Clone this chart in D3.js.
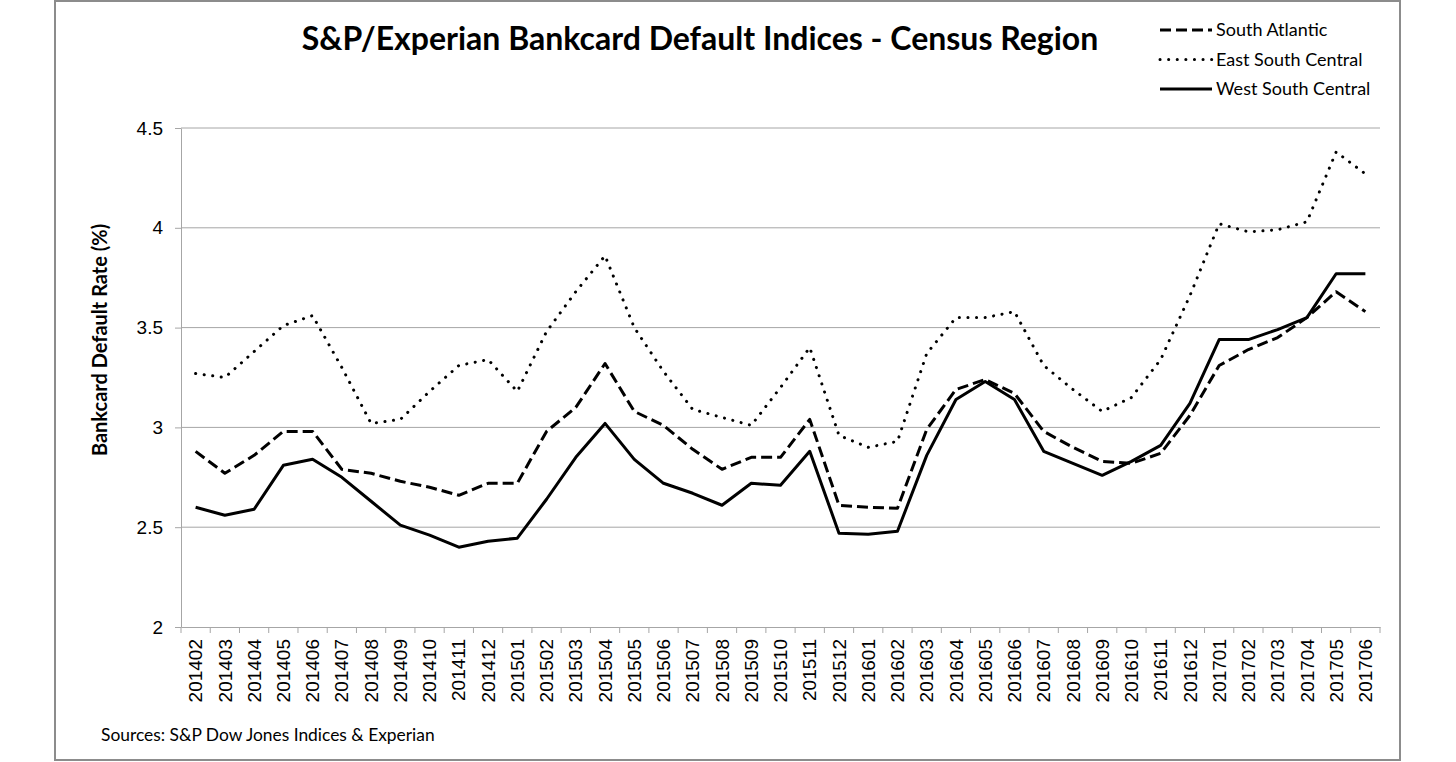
<!DOCTYPE html>
<html>
<head>
<meta charset="utf-8">
<script src="https://cdn.jsdelivr.net/npm/d3@7"></script>
<style>
  body { margin: 0; background: #fff; }
  svg { display: block; font-family: Lato, 'Open Sans', sans-serif; }
  .grid line { stroke: #a6a6a6; stroke-width: 1; }
  .axis path, .axis line { stroke: #a6a6a6; }
  .axis text { fill: #000; font-size: 19px; }
</style>
</head>
<body>
<svg width="1456" height="762"></svg>
<script>
  // Months on the category axis
  const months = [
    '201402', '201403', '201404', '201405', '201406', '201407', '201408', '201409',
    '201410', '201411', '201412', '201501', '201502', '201503', '201504', '201505',
    '201506', '201507', '201508', '201509', '201510', '201511', '201512', '201601',
    '201602', '201603', '201604', '201605', '201606', '201607', '201608', '201609',
    '201610', '201611', '201612', '201701', '201702', '201703', '201704', '201705',
    '201706'
  ];

  // Default rates (%)
  const southAtlantic = [
    2.88, 2.77, 2.86, 2.98, 2.98, 2.79, 2.77, 2.73, 2.70, 2.66, 2.72, 2.72, 2.98, 3.10,
    3.32, 3.08, 3.01, 2.89, 2.79, 2.85, 2.85, 3.04, 2.61, 2.60, 2.595, 2.99, 3.19, 3.24,
    3.17, 2.98, 2.90, 2.83, 2.82, 2.87, 3.06, 3.31, 3.39, 3.45, 3.55, 3.68, 3.58
  ];
  const eastSouthCentral = [
    3.27, 3.25, 3.38, 3.51, 3.56, 3.30, 3.02, 3.04, 3.18, 3.31, 3.34, 3.18, 3.48, 3.68,
    3.86, 3.50, 3.28, 3.09, 3.05, 3.01, 3.20, 3.40, 2.96, 2.90, 2.93, 3.37, 3.55, 3.55,
    3.58, 3.31, 3.19, 3.08, 3.15, 3.34, 3.66, 4.02, 3.98, 3.99, 4.03, 4.38, 4.27
  ];
  const westSouthCentral = [
    2.60, 2.56, 2.59, 2.81, 2.84, 2.75, 2.63, 2.51, 2.46, 2.40, 2.43, 2.445, 2.64, 2.85,
    3.02, 2.84, 2.72, 2.67, 2.61, 2.72, 2.71, 2.88, 2.47, 2.465, 2.48, 2.86, 3.14, 3.23,
    3.14, 2.88, 2.82, 2.76, 2.83, 2.91, 3.12, 3.44, 3.44, 3.49, 3.55, 3.77, 3.77
  ];

  const yTicks = [2, 2.5, 3, 3.5, 4, 4.5];

  const series = [
    { name: 'South Atlantic', values: southAtlantic, dash: '11,5', cap: 'butt' },
    { name: 'East South Central', values: eastSouthCentral, dash: '0.1,8.5', cap: 'round' },
    { name: 'West South Central', values: westSouthCentral, dash: null, cap: 'butt' }
  ];

  const svg = d3.select('svg');

  // Outer chart border
  svg.append('rect')
    .attr('x', 55).attr('y', 1)
    .attr('width', 1345).attr('height', 759)
    .attr('fill', 'none')
    .attr('stroke', '#8c8c8c')
    .attr('stroke-width', 2);

  const plot = { left: 181, right: 1380, top: 128, bottom: 627 };

  const xScale = d3.scaleBand()
    .domain(months)
    .range([plot.left, plot.right])
    .padding(0);

  const yScale = d3.scaleLinear()
    .domain([2, 4.5])
    .range([plot.bottom, plot.top]);

  const xCenter = m => xScale(m) + xScale.bandwidth() / 2;

  // Horizontal gridlines
  svg.append('g')
    .attr('class', 'grid')
    .selectAll('line')
    .data(yTicks.slice(1))
    .join('line')
      .attr('x1', plot.left).attr('x2', plot.right)
      .attr('y1', d => yScale(d)).attr('y2', d => yScale(d));

  // Y axis
  svg.append('g')
    .attr('class', 'axis')
    .attr('transform', `translate(${plot.left},0)`)
    .call(d3.axisLeft(yScale).tickValues(yTicks).tickSize(6).tickPadding(12).tickSizeOuter(0)
      .tickFormat(d3.format('')));

  // X axis: labels at band centres, tick marks on band boundaries
  const xAxisG = svg.append('g')
    .attr('class', 'axis')
    .attr('transform', `translate(0,${plot.bottom})`)
    .call(d3.axisBottom(xScale).tickSize(0).tickSizeOuter(0));
  xAxisG.selectAll('.tick text')
    .attr('transform', 'rotate(-90)')
    .attr('text-anchor', 'end')
    .attr('x', -12)
    .attr('y', 0)
    .attr('dy', '0.35em');

  const boundaries = months.map(m => xScale(m)).concat([xScale.range()[1]]);
  xAxisG.selectAll('.bound')
    .data(boundaries)
    .join('line')
      .attr('class', 'bound')
      .attr('x1', d => d).attr('x2', d => d)
      .attr('y1', 0).attr('y2', 6);

  // Lines
  const line = d3.line()
    .x((d, i) => xCenter(months[i]))
    .y(d => yScale(d));

  svg.append('g')
    .selectAll('path')
    .data(series)
    .join('path')
      .attr('d', d => line(d.values))
      .attr('fill', 'none')
      .attr('stroke', '#000')
      .attr('stroke-width', 3)
      .attr('stroke-linejoin', 'round')
      .attr('stroke-linecap', d => d.cap)
      .attr('stroke-dasharray', d => d.dash);

  // Title
  svg.append('text')
    .attr('x', 700).attr('y', 50)
    .attr('text-anchor', 'middle')
    .attr('font-size', 32)
    .attr('font-weight', 'bold')
    .text('S&P/Experian Bankcard Default Indices - Census Region');

  // Y axis label
  svg.append('text')
    .attr('transform', 'translate(107,340) rotate(-90)')
    .attr('text-anchor', 'middle')
    .attr('font-size', 20)
    .attr('font-weight', 'bold')
    .text('Bankcard Default Rate (%)');

  // Source note
  svg.append('text')
    .attr('x', 101).attr('y', 741)
    .attr('font-size', 17.4)
    .text('Sources: S&P Dow Jones Indices & Experian');

  // Legend
  const legend = svg.append('g')
    .selectAll('g')
    .data(series)
    .join('g')
      .attr('transform', (d, i) => `translate(1160,${30 + i * 29.5})`);
  legend.append('line')
    .attr('x1', 0).attr('x2', 52)
    .attr('stroke', '#000')
    .attr('stroke-width', 3)
    .attr('stroke-linecap', d => d.cap)
    .attr('stroke-dasharray', d => d.dash);
  legend.append('text')
    .attr('x', 56)
    .attr('dy', '0.35em')
    .attr('font-size', 18)
    .text(d => d.name);
</script>
</body>
</html>
